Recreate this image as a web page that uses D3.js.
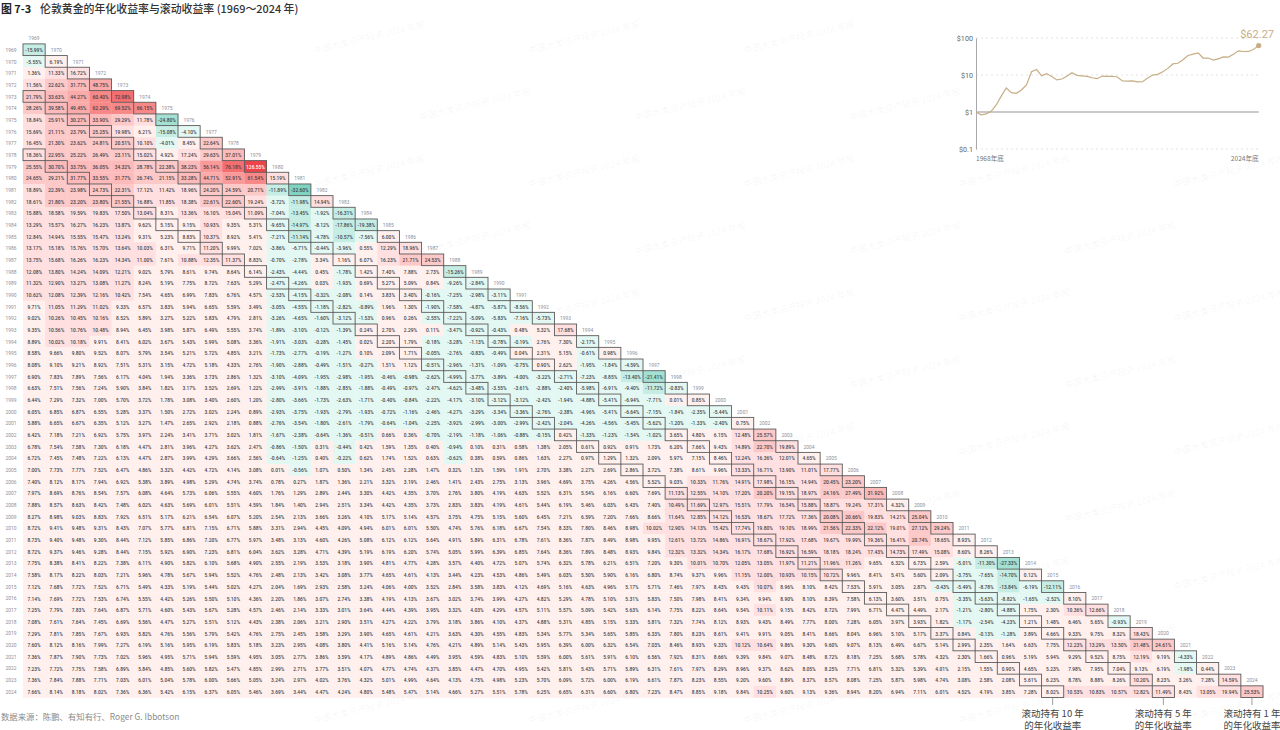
<!DOCTYPE html>
<html><head><meta charset="utf-8">
<script src="https://cdn.jsdelivr.net/npm/d3@7"></script>
<style>
html,body{margin:0;padding:0;background:#fff;overflow:hidden}
svg{display:block}
text{font-family:Roboto,"Noto Sans CJK SC",sans-serif}
.cjk{font-family:"Noto Sans CJK SC",sans-serif}
</style></head><body><div id="c"></div>
<script>
const titleNo = "图 7-3";
const titleText = "伦敦黄金的年化收益率与滚动收益率 (1969～2024 年)";
const sourceText = "数据来源：陈鹏、有知有行、Roger G. Ibbotson";
const watermark = "中国大类资产投资 2024 年报";
const years = d3.range(1969, 2025);
const holdOffsets = [0, 4, 9];
const holdLabels = [["滚动持有 10 年","的年化收益率"],["滚动持有 5 年","的年化收益率"],["滚动持有 1 年","的年化收益率"]];
const returns = [
[-15.99],
[-5.55,6.19],
[1.36,11.33,16.72],
[11.56,22.62,31.77,48.75],
[21.79,33.63,44.27,60.40,72.98],
[28.26,39.58,49.45,62.29,69.52,66.15],
[18.84,25.91,30.27,33.90,29.29,11.78,-24.80],
[15.69,21.11,23.79,25.25,19.98,6.21,-15.08,-4.10],
[16.45,21.30,23.62,24.81,20.51,10.10,-4.01,8.45,22.64],
[18.36,22.95,25.22,26.49,23.11,15.02,4.92,17.24,29.63,37.01],
[25.55,30.70,33.75,36.05,34.32,28.78,22.38,38.23,56.14,76.18,126.55],
[24.65,29.21,31.77,33.55,31.77,26.74,21.15,33.28,44.71,52.91,61.54,15.19],
[18.89,22.39,23.98,24.73,22.31,17.12,11.42,18.96,24.20,24.59,20.71,-11.89,-32.60],
[18.61,21.80,23.20,23.80,21.55,16.88,11.85,18.38,22.61,22.60,19.24,-3.72,-11.98,14.94],
[15.88,18.58,19.59,19.83,17.50,13.04,8.31,13.36,16.10,15.04,11.09,-7.04,-13.45,-1.92,-16.31],
[13.29,15.57,16.27,16.23,13.87,9.62,5.15,9.15,10.93,9.35,5.31,-9.65,-14.97,-8.12,-17.86,-19.38],
[12.84,14.94,15.55,15.47,13.24,9.31,5.23,8.83,10.37,8.92,5.41,-7.21,-11.14,-4.78,-10.57,-7.56,6.00],
[13.17,15.18,15.76,15.70,13.64,10.03,6.31,9.71,11.20,9.99,7.02,-3.86,-6.71,-0.44,-3.96,0.55,12.29,18.96],
[13.75,15.68,16.26,16.23,14.34,11.00,7.61,10.88,12.35,11.37,8.83,-0.70,-2.78,3.34,1.16,6.07,16.23,21.71,24.53],
[12.08,13.80,14.24,14.09,12.21,9.02,5.79,8.61,9.74,8.64,6.14,-2.43,-4.44,0.45,-1.78,1.42,7.40,7.88,2.73,-15.26],
[11.32,12.90,13.27,13.08,11.27,8.24,5.19,7.75,8.72,7.63,5.29,-2.47,-4.26,0.03,-1.93,0.69,5.27,5.09,0.84,-9.26,-2.84],
[10.62,12.08,12.39,12.16,10.42,7.54,4.65,6.99,7.83,6.76,4.57,-2.53,-4.15,-0.32,-2.08,0.14,3.83,3.40,-0.16,-7.25,-2.98,-3.11],
[9.71,11.05,11.29,11.02,9.33,6.57,3.83,5.94,6.65,5.59,3.49,-3.05,-4.55,-1.18,-2.82,-0.89,1.96,1.30,-1.90,-7.58,-4.87,-5.87,-8.56],
[9.02,10.26,10.45,10.16,8.52,5.89,3.27,5.22,5.83,4.79,2.81,-3.26,-4.65,-1.60,-3.12,-1.53,0.96,0.26,-2.55,-7.22,-5.09,-5.83,-7.16,-5.73],
[9.35,10.56,10.76,10.48,8.94,6.45,3.98,5.87,6.49,5.55,3.74,-1.89,-3.10,-0.12,-1.39,0.24,2.70,2.29,0.11,-3.47,-0.92,-0.43,0.48,5.32,17.68],
[8.89,10.02,10.18,9.91,8.41,6.02,3.67,5.43,5.99,5.08,3.36,-1.91,-3.03,-0.28,-1.45,0.02,2.20,1.79,-0.18,-3.28,-1.13,-0.78,-0.19,2.76,7.30,-2.17],
[8.58,9.66,9.80,9.52,8.07,5.79,3.54,5.21,5.72,4.85,3.21,-1.73,-2.77,-0.19,-1.27,0.10,2.09,1.71,-0.05,-2.76,-0.83,-0.49,0.04,2.31,5.15,-0.61,0.98],
[8.08,9.10,9.21,8.92,7.51,5.31,3.15,4.72,5.18,4.33,2.76,-1.90,-2.88,-0.49,-1.51,-0.27,1.51,1.12,-0.51,-2.96,-1.31,-1.09,-0.75,0.90,2.62,-1.95,-1.84,-4.59],
[6.90,7.83,7.89,7.56,6.17,4.04,1.94,3.36,3.73,2.86,1.32,-3.10,-4.09,-1.95,-2.98,-1.95,-0.46,-0.98,-2.62,-4.99,-3.77,-3.89,-4.00,-3.22,-2.71,-7.23,-8.85,-13.40,-21.41],
[6.63,7.51,7.56,7.24,5.90,3.84,1.82,3.17,3.52,2.69,1.22,-2.99,-3.91,-1.88,-2.85,-1.88,-0.49,-0.97,-2.47,-4.62,-3.48,-3.55,-3.61,-2.88,-2.40,-5.98,-6.91,-9.40,-11.72,-0.83],
[6.44,7.29,7.32,7.00,5.70,3.72,1.78,3.08,3.40,2.60,1.20,-2.80,-3.66,-1.73,-2.63,-1.71,-0.40,-0.84,-2.22,-4.17,-3.10,-3.12,-3.12,-2.42,-1.94,-4.88,-5.41,-6.94,-7.71,0.01,0.85],
[6.05,6.85,6.87,6.55,5.28,3.37,1.50,2.72,3.02,2.24,0.89,-2.93,-3.75,-1.93,-2.79,-1.93,-0.72,-1.16,-2.46,-4.27,-3.29,-3.34,-3.36,-2.76,-2.38,-4.96,-5.41,-6.64,-7.15,-1.84,-2.35,-5.44],
[5.88,6.65,6.67,6.35,5.12,3.27,1.47,2.65,2.92,2.18,0.88,-2.76,-3.54,-1.80,-2.61,-1.79,-0.64,-1.04,-2.25,-3.92,-2.99,-3.00,-2.99,-2.42,-2.04,-4.26,-4.56,-5.45,-5.62,-1.20,-1.33,-2.40,0.75],
[6.42,7.18,7.21,6.92,5.75,3.97,2.24,3.41,3.71,3.02,1.81,-1.67,-2.38,-0.64,-1.36,-0.51,0.66,0.36,-0.70,-2.19,-1.18,-1.06,-0.88,-0.15,0.42,-1.33,-1.23,-1.54,-1.02,3.65,4.80,6.15,12.48,25.57],
[6.78,7.54,7.58,7.30,6.18,4.47,2.81,3.96,4.27,3.62,2.47,-0.86,-1.50,0.31,-0.44,0.42,1.59,1.35,0.40,-0.94,0.10,0.31,0.58,1.38,2.05,0.61,0.92,0.91,1.73,6.20,7.66,9.43,14.89,22.70,19.89],
[6.72,7.45,7.48,7.22,6.13,4.47,2.87,3.99,4.29,3.66,2.56,-0.64,-1.25,0.40,-0.22,0.62,1.74,1.52,0.63,-0.62,0.38,0.59,0.86,1.63,2.27,0.97,1.29,1.32,2.09,5.97,7.15,8.46,12.24,16.36,12.01,4.65],
[7.00,7.73,7.77,7.52,6.47,4.86,3.32,4.42,4.72,4.14,3.08,0.01,-0.56,1.07,0.50,1.34,2.45,2.28,1.47,0.32,1.32,1.59,1.91,2.70,3.38,2.27,2.69,2.86,3.72,7.38,8.61,9.96,13.33,16.71,13.90,11.01,17.77],
[7.40,8.12,8.17,7.94,6.92,5.38,3.89,4.98,5.29,4.74,3.74,0.78,0.27,1.87,1.36,2.21,3.32,3.19,2.46,1.41,2.43,2.75,3.13,3.96,4.69,3.75,4.26,4.56,5.52,9.03,10.33,11.76,14.91,17.98,16.15,14.94,20.45,23.20],
[7.97,8.69,8.76,8.54,7.57,6.08,4.64,5.73,6.06,5.55,4.60,1.76,1.29,2.89,2.44,3.30,4.42,4.35,3.70,2.76,3.80,4.19,4.63,5.52,6.31,5.54,6.16,6.60,7.69,11.13,12.55,14.10,17.20,20.20,19.15,18.97,24.16,27.49,31.92],
[7.88,8.57,8.63,8.42,7.48,6.02,4.63,5.69,6.01,5.51,4.59,1.84,1.40,2.94,2.51,3.34,4.42,4.35,3.73,2.83,3.83,4.19,4.61,5.44,6.19,5.46,6.03,6.43,7.40,10.49,11.69,12.97,15.51,17.79,16.54,15.88,18.87,19.24,17.31,4.32],
[8.27,8.98,9.03,8.83,7.92,6.51,5.17,6.21,6.54,6.07,5.20,2.54,2.13,3.66,3.26,4.10,5.17,5.14,4.57,3.75,4.75,5.15,5.60,6.45,7.21,6.59,7.20,7.66,8.66,11.64,12.85,14.12,16.53,18.67,17.72,17.36,20.08,20.66,19.83,14.21,25.04],
[8.72,9.41,9.48,9.31,8.43,7.07,5.77,6.81,7.15,6.71,5.88,3.31,2.94,4.45,4.09,4.94,6.01,6.01,5.50,4.74,5.76,6.18,6.67,7.54,8.33,7.80,8.46,8.98,10.02,12.90,14.13,15.42,17.74,19.80,19.10,18.99,21.56,22.33,22.12,19.01,27.12,29.24],
[8.73,9.40,9.48,9.30,8.44,7.12,5.85,6.86,7.20,6.77,5.97,3.48,3.13,4.60,4.26,5.08,6.12,6.12,5.64,4.91,5.89,6.31,6.78,7.61,8.36,7.87,8.49,8.98,9.95,12.61,13.72,14.86,16.91,18.67,17.92,17.68,19.67,19.99,19.36,16.41,20.74,18.65,8.93],
[8.72,9.37,9.46,9.28,8.44,7.15,5.92,6.90,7.23,6.81,6.04,3.62,3.28,4.71,4.39,5.19,6.19,6.20,5.74,5.05,5.99,6.39,6.85,7.64,8.36,7.89,8.48,8.93,9.84,12.32,13.32,14.34,16.17,17.68,16.92,16.59,18.18,18.24,17.43,14.73,17.49,15.08,8.60,8.26],
[7.75,8.38,8.41,8.22,7.38,6.11,4.90,5.82,6.10,5.68,4.90,2.55,2.19,3.53,3.18,3.90,4.81,4.77,4.28,3.57,4.40,4.72,5.07,5.74,6.32,5.78,6.21,6.51,7.20,9.30,10.01,10.70,12.05,13.05,11.97,11.21,11.96,11.26,9.65,6.32,6.73,2.59,-5.01,-11.30,-27.33],
[7.58,8.17,8.22,8.03,7.21,5.96,4.78,5.67,5.94,5.52,4.76,2.48,2.13,3.42,3.08,3.77,4.65,4.61,4.13,3.44,4.23,4.53,4.86,5.49,6.03,5.50,5.90,6.16,6.80,8.74,9.37,9.96,11.15,12.00,10.93,10.15,10.72,9.96,8.41,5.41,5.60,2.09,-3.75,-7.65,-14.70,0.12],
[7.12,7.68,7.72,7.52,6.71,5.49,4.33,5.19,5.44,5.02,4.27,2.04,1.69,2.93,2.58,3.24,4.06,4.00,3.52,2.84,3.58,3.83,4.12,4.69,5.16,4.63,4.96,5.17,5.71,7.46,7.97,8.43,9.43,10.07,8.96,8.10,8.42,7.53,5.91,3.05,2.87,-0.43,-5.49,-8.78,-13.84,-6.19,-12.11],
[7.14,7.69,7.72,7.53,6.74,5.55,4.42,5.26,5.50,5.10,4.36,2.20,1.86,3.07,2.74,3.38,4.19,4.13,3.67,3.02,3.74,3.99,4.27,4.82,5.29,4.78,5.10,5.31,5.83,7.50,7.98,8.41,9.34,9.94,8.90,8.10,8.39,7.58,6.13,3.60,3.51,0.75,-3.35,-5.63,-8.82,-1.65,-2.52,8.10],
[7.25,7.79,7.83,7.64,6.87,5.71,4.60,5.43,5.67,5.28,4.57,2.46,2.14,3.33,3.01,3.64,4.44,4.39,3.95,3.32,4.03,4.29,4.57,5.11,5.57,5.09,5.42,5.63,6.14,7.75,8.22,8.64,9.54,10.11,9.15,8.42,8.72,7.99,6.71,4.47,4.49,2.17,-1.21,-2.80,-4.88,1.75,2.30,10.36,12.66],
[7.08,7.61,7.64,7.45,6.69,5.56,4.47,5.27,5.51,5.12,4.43,2.38,2.06,3.21,2.90,3.51,4.27,4.22,3.79,3.18,3.86,4.10,4.37,4.88,5.31,4.85,5.15,5.33,5.81,7.32,7.74,8.12,8.93,9.43,8.49,7.77,8.00,7.28,6.05,3.97,3.93,1.82,-1.17,-2.54,-4.23,1.21,1.48,6.46,5.65,-0.93],
[7.29,7.81,7.85,7.67,6.93,5.82,4.76,5.56,5.79,5.42,4.76,2.75,2.45,3.58,3.29,3.90,4.65,4.61,4.21,3.63,4.30,4.55,4.83,5.34,5.77,5.34,5.65,5.85,6.33,7.80,8.23,8.61,9.41,9.91,9.05,8.41,8.66,8.04,6.96,5.10,5.17,3.37,0.84,-0.13,-1.28,3.89,4.66,9.33,9.75,8.32,18.43],
[7.60,8.12,8.16,7.99,7.27,6.19,5.16,5.95,6.19,5.83,5.18,3.23,2.95,4.08,3.80,4.41,5.16,5.14,4.76,4.21,4.89,5.14,5.43,5.95,6.39,6.00,6.32,6.54,7.03,8.46,8.93,9.33,10.12,10.64,9.86,9.30,9.60,9.07,8.13,6.49,6.67,5.14,2.99,2.35,1.64,6.63,7.75,12.23,13.29,13.50,21.48,24.61],
[7.36,7.87,7.90,7.73,7.02,5.96,4.95,5.71,5.94,5.59,4.95,3.05,2.77,3.86,3.59,4.17,4.89,4.86,4.49,3.95,4.59,4.83,5.10,5.59,6.00,5.61,5.91,6.10,6.56,7.92,8.31,8.66,9.39,9.84,9.07,8.48,8.72,8.18,7.25,5.68,5.78,4.32,2.30,1.66,0.96,5.19,5.94,9.29,9.52,8.75,12.19,9.19,-4.33],
[7.23,7.72,7.75,7.58,6.89,5.84,4.85,5.60,5.82,5.47,4.85,2.99,2.71,3.77,3.51,4.07,4.77,4.74,4.37,3.85,4.47,4.70,4.95,5.42,5.81,5.43,5.71,5.89,6.31,7.61,7.97,8.29,8.96,9.37,8.62,8.05,8.25,7.71,6.81,5.32,5.39,4.01,2.15,1.55,0.90,4.65,5.23,7.98,7.95,7.04,9.13,6.19,-1.98,0.44],
[7.36,7.84,7.88,7.71,7.03,6.01,5.04,5.78,6.00,5.66,5.05,3.24,2.97,4.02,3.76,4.32,5.01,4.99,4.64,4.13,4.75,4.98,5.23,5.70,6.09,5.72,6.00,6.19,6.61,7.87,8.23,8.55,9.20,9.60,8.89,8.37,8.57,8.08,7.25,5.87,5.98,4.74,3.08,2.58,2.08,5.61,6.23,8.78,8.88,8.26,10.20,8.23,3.26,7.28,14.59],
[7.66,8.14,8.18,8.02,7.36,6.36,5.42,6.15,6.37,6.05,5.46,3.69,3.44,4.47,4.24,4.80,5.48,5.47,5.14,4.66,5.27,5.51,5.78,6.25,6.65,6.31,6.60,6.80,7.23,8.47,8.85,9.18,9.84,10.25,9.60,9.13,9.36,8.94,8.20,6.94,7.11,6.01,4.52,4.19,3.85,7.28,8.02,10.53,10.83,10.57,12.82,11.49,8.43,13.05,19.94,25.53]
];
const wealthYears = d3.range(1968, 2025);
const wealth = [1,0.84,0.892,1.041,1.549,2.679,4.452,3.348,3.21,3.937,5.395,12.22,14.08,9.49,10.91,9.13,7.36,7.8,9.28,11.56,9.79,9.52,9.22,8.43,7.95,9.35,9.15,9.24,8.82,6.93,6.87,6.93,6.55,6.6,8.29,9.94,10.4,12.25,15.09,19.91,20.77,25.97,33.56,36.56,39.58,28.76,28.8,25.31,27.36,30.82,30.54,36.17,45.07,43.12,43.31,49.63,62.27];
const wealthTicks = [0.1,1,10,100];
const colorBreaks = [-30,-20,-10,0,10,20,30,40,50,60,70,100];
const colorRamp = ["#7fd3c1","#a3e1d3","#c5ede4","#e4f8f3","#fff0ee","#ffdfdf","#fcc8c8","#fcbaba","#fbaaaa","#f99a9a","#f78888","#f46e70","#ec4449"];

const svg = d3.select("#c").append("svg").attr("width",1280).attr("height",730);
const color = d3.scaleThreshold().domain(colorBreaks).range(colorRamp);
const x = d3.scaleBand().domain(years).range([23,1263]);
const y = d3.scaleBand().domain(years).range([43.9,697.5]);
const cx = d => x(d)+x.bandwidth()/2, cy = d => y(d)+y.bandwidth()/2;

svg.append("text").attr("class","cjk").attr("x",1).attr("y",13).attr("font-size",10.9).attr("font-weight",700).attr("fill","#222").text(titleNo);
svg.append("text").attr("class","cjk").attr("x",40).attr("y",13).attr("font-size",10.9).attr("font-weight",500).attr("fill","#333").text(titleText);

const cells = returns.flatMap((row,i)=>row.map((v,j)=>({end:years[i],start:years[j],v,off:i-j})));
const gc = svg.append("g");
gc.selectAll("rect").data(cells).join("rect")
  .attr("x",d=>x(d.start)).attr("y",d=>y(d.end)).attr("width",x.bandwidth()+.3).attr("height",y.bandwidth()+.3)
  .attr("fill",d=>color(d.v));
const gb = svg.append("g");
gb.selectAll("rect").data(cells.filter(d=>holdOffsets.includes(d.off))).join("rect")
  .attr("x",d=>x(d.start)).attr("y",d=>y(d.end)).attr("width",x.bandwidth()).attr("height",y.bandwidth())
  .attr("fill","none").attr("stroke","#5c5c5c").attr("stroke-width",.9);
const small = (sel,fx,fy,sx)=>sel.attr("transform",d=>`translate(${fx(d)},${fy(d)}) scale(${sx},1)`).attr("text-anchor","middle").attr("dominant-baseline","central");
small(svg.append("g").selectAll("text").data(cells).join("text"),d=>cx(d.start),d=>cy(d.end),.8)
  .attr("font-size",6.1).attr("font-weight",500).attr("fill",d=>d.v>100?"#fff":"#3f3f46")
  .text(d=>d.v.toFixed(2)+"%");
small(svg.append("g").selectAll("text").data(years).join("text"),()=>11,d=>cy(d),.85)
  .attr("font-size",5.8).attr("fill","#8b8f9a").text(d=>d);
small(svg.append("g").selectAll("text").data(years).join("text"),d=>cx(d),d=>cy(d)-y.step(),.85)
  .attr("font-size",5.8).attr("fill","#8b8f9a").text(d=>d);

// source + hold annotations
svg.append("text").attr("class","cjk").attr("x",1).attr("y",720).attr("font-size",8.4).attr("fill","#8b8b8b").text(sourceText);
holdOffsets.slice().reverse().forEach((off,k)=>{
  const s = years[years.length-1-off];
  const g = svg.append("g");
  g.append("line").attr("x1",cx(s)).attr("x2",cx(s)).attr("y1",697.5).attr("y2",705).attr("stroke","#888").attr("stroke-width",.8);
  holdLabels[k].forEach((t,i)=>g.append("text").attr("class","cjk").attr("x",cx(s)).attr("y",716.5+i*12).attr("text-anchor","middle").attr("font-size",9.5).attr("fill","#444").text(t));
});

// inset
const ix = d3.scaleLinear().domain([1968,2024]).range([976,1258.7]);
const iy = d3.scaleLog().domain([0.1,100]).range([149,38]);
const gi = svg.append("g");
gi.append("g").selectAll("line").data(wealthTicks).join("line")
  .attr("x1",976).attr("x2",1258.7).attr("y1",d=>iy(d)).attr("y2",d=>iy(d))
  .attr("stroke",d=>d===1?"#96969c":"#dcdcdc").attr("stroke-width",d=>d===1?1.2:.8).attr("stroke-dasharray",d=>d===1?null:"2 3");
const ya = gi.append("g").attr("transform","translate(976,0)").call(d3.axisLeft(iy).tickValues(wealthTicks).tickSize(0).tickPadding(3).tickFormat(d=>"$"+d));
ya.select(".domain").attr("stroke","#a8a8ad").attr("stroke-width",1);
ya.selectAll("text").attr("font-size",7.2).attr("fill","#666").attr("font-family","Roboto");
gi.append("path").datum(wealth).attr("fill","none").attr("stroke","#c6ad85").attr("stroke-width",1.2)
  .attr("d",d3.line().x((d,i)=>ix(wealthYears[i])).y(d=>iy(d)));
gi.append("circle").attr("cx",ix(2024)).attr("cy",iy(wealth[wealth.length-1])).attr("r",2.6).attr("fill","#c6ad85");
gi.append("text").attr("x",1274).attr("y",38).attr("text-anchor","end").attr("font-size",11).attr("fill","#c6ad85").text("$"+wealth[wealth.length-1]);
gi.append("text").attr("class","cjk").attr("x",976).attr("y",161).attr("font-size",6.6).attr("fill","#777").text(wealthYears[0]+"年底");
gi.append("text").attr("class","cjk").attr("x",1258.7).attr("y",161).attr("text-anchor","end").attr("font-size",6.6).attr("fill","#777").text(wealthYears[wealthYears.length-1]+"年底");

// watermark tiles
const gw = svg.append("g");
d3.range(0,11).forEach(k=>{
  const maxX = k===0?810:(k===1?910:1250);
  for(let px=(k%2?475:369);px<=maxX;px+=215){
    gw.append("text").attr("class","cjk").attr("transform",`translate(${px},${37+67*k}) rotate(-13.5)`)
      .attr("text-anchor","middle").attr("dominant-baseline","central").attr("font-size",9).attr("fill","rgba(120,120,130,.07)").text(watermark);
  }
});
</script></body></html>
